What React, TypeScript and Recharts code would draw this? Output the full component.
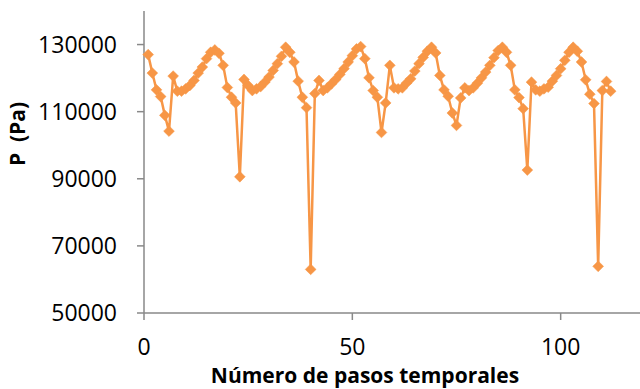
import { LineChart, Line, XAxis, YAxis } from "recharts";

// pressure (Pa) at each time step, steps start at 1
const pressure = [
  127000, 121500, 116500, 114500, 108900, 104200, 120600, 116100, 116100, 116800,
  117800, 119300, 121500, 123300, 125800, 127700, 128400, 127400, 123800, 117200,
  114300, 112600, 90600, 119600, 117800, 116300, 116800, 117500, 118800, 120300,
  122300, 124300, 126500, 129200, 127700, 124800, 119100, 114300, 111200, 63000,
  115400, 119300, 116300, 117100, 118300, 119600, 121100, 122800, 124800, 126700,
  128700, 129400, 125800, 120100, 116300, 114300, 103800, 112600, 123800, 117100,
  116800, 117100, 118500, 119800, 122100, 124300, 126200, 128000, 129200, 127500,
  120800, 116500, 114600, 109600, 105900, 114100, 117100, 116300, 117100, 118500,
  120100, 121800, 123800, 126100, 128200, 129200, 127700, 123800, 116500, 114200,
  110900, 92600, 118800, 116500, 116100, 116800, 117300, 119100, 120800, 122800,
  125300, 127700, 129200, 128000, 124800, 119500, 115200, 112400, 63900, 116300,
  119000, 116100,
];

const xTicks = [0, 50, 100];
const yTicks = [50000, 70000, 90000, 110000, 130000];

const data = pressure.map((p, i) => ({ paso: i + 1, p }));

const ORANGE = "#F79646";
const AXIS = "#898989";
const FONT = "'Open Sans', 'Noto Sans', sans-serif";

const Diamond = (props: any) => {
  const { cx, cy } = props;
  if (cx == null || cy == null) return null;
  const r = 5.4;
  return (
    <path
      d={`M${cx},${cy - r}L${cx + r},${cy}L${cx},${cy + r}L${cx - r},${cy}Z`}
      fill={ORANGE}
      stroke={ORANGE}
      strokeWidth={0.5}
    />
  );
};

export default function App() {
  return (
    <div style={{ position: "absolute", left: 0, top: 0, background: "#fff" }}>
      <LineChart
        width={640}
        height={389}
        data={data}
        margin={{ top: 11, right: -4, bottom: 0, left: 0 }}
      >
        <XAxis
          type="number"
          dataKey="paso"
          domain={[0, 120]}
          ticks={xTicks}
          height={76}
          tickSize={7}
          tickMargin={19}
          stroke={AXIS}
          strokeWidth={1.5}
          tick={{ fill: "#000", fontSize: 23, fontFamily: FONT }}
          label={({ viewBox }: any) => (
            <text
              x={viewBox.x + viewBox.width / 2 - 29}
              y={383}
              textAnchor="middle"
              fontFamily={FONT}
              fontWeight="bold"
              fontSize={21}
              fill="#000"
            >
              Número de pasos temporales
            </text>
          )}
        />
        <YAxis
          type="number"
          domain={[50000, 140000]}
          ticks={yTicks}
          width={144}
          tickSize={7}
          tickMargin={20}
          stroke={AXIS}
          strokeWidth={1.5}
          tick={{ fill: "#000", fontSize: 23, fontFamily: FONT }}
          label={() => (
            <text
              x={0}
              y={0}
              transform="translate(25,134) rotate(-90)"
              textAnchor="middle"
              fontFamily={FONT}
              fontWeight="bold"
              fontSize={21}
              fill="#000"
              style={{ whiteSpace: "pre" }}
            >
              {"P  (Pa)"}
            </text>
          )}
        />
        <Line
          type="linear"
          dataKey="p"
          stroke={ORANGE}
          strokeWidth={2.5}
          dot={<Diamond />}
          activeDot={false}
          isAnimationActive={false}
        />
      </LineChart>
    </div>
  );
}
